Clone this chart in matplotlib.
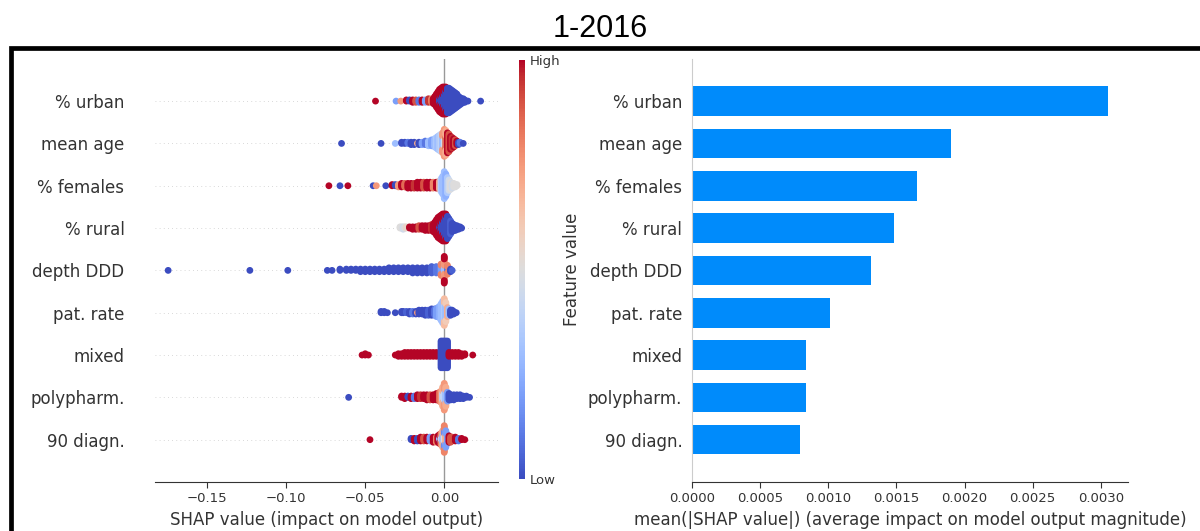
import numpy as np
import matplotlib
matplotlib.use("Agg")
import matplotlib.pyplot as plt
from matplotlib.patches import Rectangle

features = ["90 diagn.", "polypharm.", "mixed", "pat. rate", "depth DDD",
            "% rural", "% females", "mean age", "% urban"]
mean_abs_shap = [0.00079, 0.00084, 0.00084, 0.00101, 0.00131,
                 0.00148, 0.00165, 0.00190, 0.00305]

# (shap value, scaled feature value 0..1, number of samples)
urban = [(-0.0435, 1.0, 1), (-0.0305, 0.2, 1), (-0.0275, 0.75, 1), (-0.024, 1.0, 2),
         (-0.022, 0.0, 2), (-0.020, 1.0, 3), (-0.018, 0.9, 3), (-0.016, 0.1, 3),
         (-0.014, 1.0, 3), (-0.012, 0.2, 3), (-0.010, 0.95, 4), (-0.008, 0.8, 4),
         (-0.007, 1.0, 5), (-0.006, 1.0, 8), (-0.005, 1.0, 12), (-0.004, 1.0, 16),
         (-0.003, 0.0, 6), (-0.003, 1.0, 14), (-0.002, 0.0, 8), (-0.002, 1.0, 14),
         (-0.001, 0.0, 10), (-0.001, 1.0, 14), (0.000, 0.0, 14), (0.000, 1.0, 10),
         (0.001, 0.0, 18), (0.001, 1.0, 6), (0.002, 0.0, 22), (0.003, 0.0, 22),
         (0.004, 0.0, 20), (0.005, 0.0, 18), (0.006, 0.0, 16), (0.007, 0.0, 14),
         (0.008, 0.0, 12), (0.009, 0.0, 9), (0.010, 0.0, 7), (0.011, 0.0, 5),
         (0.012, 0.0, 4), (0.013, 0.0, 3), (0.015, 0.0, 1), (0.023, 0.0, 1)]
mean_age = [(-0.065, 0.0, 1), (-0.040, 0.0, 1), (-0.031, 0.3, 1), (-0.027, 0.0, 2),
            (-0.025, 0.0, 2), (-0.023, 0.1, 2), (-0.021, 0.0, 3), (-0.019, 0.0, 3),
            (-0.017, 0.7, 1), (-0.016, 0.0, 3), (-0.014, 0.2, 3), (-0.012, 0.1, 4),
            (-0.010, 0.3, 5), (-0.008, 0.2, 6), (-0.006, 0.3, 8), (-0.005, 0.35, 10),
            (-0.004, 0.3, 12), (-0.003, 0.35, 14), (-0.002, 0.4, 16), (-0.001, 0.3, 10),
            (-0.001, 0.75, 8), (0.000, 0.45, 10), (0.000, 0.75, 14), (0.001, 0.85, 12),
            (0.001, 0.7, 10), (0.002, 1.0, 18), (0.003, 0.9, 16), (0.004, 1.0, 12),
            (0.005, 0.95, 10), (0.006, 1.0, 8), (0.007, 0.9, 6), (0.008, 1.0, 4),
            (0.009, 0.0, 3), (0.010, 0.1, 2), (0.012, 0.0, 1)]
females = [(-0.073, 1.0, 1), (-0.066, 0.0, 1), (-0.061, 1.0, 1), (-0.045, 0.0, 1),
           (-0.043, 0.75, 1), (-0.037, 0.0, 1), (-0.033, 1.0, 2), (-0.031, 0.0, 2),
           (-0.029, 0.75, 3), (-0.027, 1.0, 4), (-0.025, 0.85, 4), (-0.023, 1.0, 5),
           (-0.021, 1.0, 5), (-0.019, 0.95, 5), (-0.017, 1.0, 6), (-0.015, 1.0, 6),
           (-0.013, 0.9, 6), (-0.011, 1.0, 6), (-0.009, 1.0, 6), (-0.007, 0.8, 6),
           (-0.005, 1.0, 6), (-0.003, 0.7, 8), (-0.002, 0.35, 12), (-0.001, 0.3, 16),
           (0.000, 0.3, 24), (0.001, 0.25, 20), (0.002, 0.35, 14), (0.003, 0.45, 10),
           (0.004, 0.5, 7), (0.005, 0.45, 5), (0.006, 0.5, 4), (0.007, 0.5, 3),
           (0.008, 0.5, 2)]
rural = [(-0.028, 0.5, 2), (-0.027, 0.5, 2), (-0.026, 0.45, 3), (-0.025, 0.5, 2),
         (-0.024, 0.55, 2), (-0.022, 1.0, 2), (-0.020, 1.0, 3), (-0.018, 1.0, 3),
         (-0.016, 0.9, 4), (-0.014, 1.0, 4), (-0.012, 1.0, 5), (-0.010, 1.0, 5),
         (-0.008, 0.95, 6), (-0.007, 1.0, 7), (-0.006, 1.0, 10), (-0.005, 1.0, 14),
         (-0.004, 1.0, 18), (-0.003, 0.0, 4), (-0.003, 1.0, 16), (-0.002, 0.0, 8),
         (-0.002, 1.0, 14), (-0.001, 0.0, 12), (-0.001, 1.0, 12), (0.000, 0.0, 16),
         (0.000, 1.0, 8), (0.001, 0.0, 20), (0.001, 1.0, 4), (0.002, 0.0, 20),
         (0.003, 0.0, 16), (0.004, 0.05, 12), (0.005, 0.0, 8), (0.006, 0.0, 6),
         (0.007, 0.0, 5), (0.008, 0.0, 4), (0.009, 0.0, 3), (0.010, 0.0, 2),
         (0.011, 0.0, 1)]
depth_ddd = [(-0.1747, 0.0, 1), (-0.123, 0.0, 1), (-0.099, 0.0, 1), (-0.074, 0.0, 1),
             (-0.071, 0.0, 1), (-0.066, 0.0, 2), (-0.062, 0.0, 2), (-0.059, 0.0, 2),
             (-0.056, 0.0, 2), (-0.053, 0.0, 3), (-0.050, 0.0, 3), (-0.047, 0.0, 3),
             (-0.044, 0.0, 3), (-0.041, 0.0, 3), (-0.038, 0.0, 3), (-0.035, 0.0, 4),
             (-0.032, 0.0, 4), (-0.029, 0.0, 4), (-0.026, 0.0, 4), (-0.023, 0.0, 4),
             (-0.020, 0.0, 5), (-0.017, 0.0, 5), (-0.014, 0.0, 5), (-0.011, 0.0, 5),
             (-0.008, 0.05, 6), (-0.005, 0.1, 6), (-0.002, 0.2, 6), (-0.002, 0.8, 4),
             (0.000, 0.3, 6), (0.000, 0.75, 10), (0.000, 1.0, 6), (0.002, 0.1, 4),
             (0.002, 0.8, 4), (0.004, 0.0, 3), (0.005, 0.05, 1)]
pat_rate = [(-0.040, 0.0, 2), (-0.038, 0.0, 2), (-0.036, 0.0, 1), (-0.031, 0.0, 1),
            (-0.027, 0.0, 2), (-0.026, 0.0, 2), (-0.024, 0.05, 2), (-0.022, 0.0, 3),
            (-0.020, 0.1, 3), (-0.018, 0.0, 3), (-0.017, 0.75, 1), (-0.016, 0.0, 4),
            (-0.014, 0.0, 4), (-0.012, 0.0, 5), (-0.010, 0.05, 5), (-0.008, 0.0, 6),
            (-0.006, 0.1, 6), (-0.005, 0.2, 7), (-0.004, 0.2, 8), (-0.003, 0.25, 10),
            (-0.002, 0.3, 14), (-0.001, 0.3, 18), (0.000, 0.35, 14), (0.000, 0.65, 8),
            (0.001, 0.3, 12), (0.001, 0.6, 4), (0.002, 0.7, 8), (0.003, 0.3, 6),
            (0.004, 0.0, 5), (0.005, 0.0, 4), (0.006, 0.0, 3), (0.0076, 0.0, 1)]
mixed = [(-0.052, 1.0, 1), (-0.050, 1.0, 2), (-0.048, 1.0, 1), (-0.031, 1.0, 1),
         (-0.029, 1.0, 3), (-0.027, 1.0, 3), (-0.025, 1.0, 4), (-0.023, 1.0, 4),
         (-0.021, 1.0, 4), (-0.019, 1.0, 4), (-0.017, 1.0, 4), (-0.015, 1.0, 4),
         (-0.013, 1.0, 4), (-0.011, 1.0, 4), (-0.009, 1.0, 4), (-0.007, 1.0, 4),
         (-0.005, 1.0, 4), (-0.003, 1.0, 4), (-0.002, 0.0, 22), (-0.001, 0.0, 22),
         (0.000, 0.0, 22), (0.001, 0.0, 22), (0.002, 0.0, 22), (0.003, 1.0, 4),
         (0.005, 1.0, 4), (0.007, 1.0, 4), (0.009, 1.0, 4), (0.011, 1.0, 3),
         (0.013, 1.0, 2), (0.018, 1.0, 1)]
polypharm = [(-0.0605, 0.0, 1), (-0.027, 1.0, 2), (-0.025, 1.0, 3), (-0.023, 0.0, 2),
             (-0.021, 1.0, 3), (-0.019, 0.1, 3), (-0.017, 1.0, 4), (-0.015, 0.95, 4),
             (-0.013, 1.0, 4), (-0.011, 1.0, 5), (-0.009, 0.9, 5), (-0.007, 1.0, 5),
             (-0.005, 1.0, 6), (-0.003, 0.85, 8), (-0.002, 0.75, 10), (-0.001, 0.4, 8),
             (-0.001, 0.7, 8), (0.000, 0.4, 10), (0.000, 0.75, 12), (0.001, 0.3, 10),
             (0.001, 0.7, 6), (0.002, 0.2, 8), (0.003, 0.0, 6), (0.004, 0.0, 5),
             (0.006, 0.0, 5), (0.008, 0.0, 4), (0.010, 0.0, 4), (0.012, 0.0, 3),
             (0.014, 0.0, 2), (0.016, 0.0, 1)]
diagn90 = [(-0.047, 1.0, 1), (-0.021, 0.0, 2), (-0.019, 1.0, 3), (-0.017, 0.0, 3),
           (-0.015, 1.0, 4), (-0.013, 0.9, 4), (-0.011, 1.0, 4), (-0.009, 0.2, 4),
           (-0.007, 1.0, 5), (-0.005, 0.8, 5), (-0.004, 1.0, 6), (-0.003, 0.3, 4),
           (-0.003, 1.0, 4), (-0.002, 0.4, 6), (-0.002, 0.8, 4), (-0.001, 0.3, 8),
           (-0.001, 0.7, 6), (0.000, 0.5, 8), (0.000, 0.15, 8), (0.000, 0.8, 6),
           (0.001, 0.7, 8), (0.001, 0.2, 6), (0.002, 0.2, 8), (0.003, 1.0, 6),
           (0.004, 0.9, 5), (0.005, 0.9, 4), (0.007, 1.0, 4), (0.009, 0.1, 3),
           (0.011, 1.0, 2), (0.013, 1.0, 1)]

rows = [diagn90, polypharm, mixed, pat_rate, depth_ddd, rural, females, mean_age, urban]

axis_color = "#333333"
bar_color = "#008bfb"


def swarm_offsets(shaps, row_height=0.4, nbins=100):
    # stack points that fall into the same x bin, alternating above/below the row
    quant = np.round(nbins * (shaps - shaps.min()) / (shaps.max() - shaps.min() + 1e-8))
    order = np.argsort(quant, kind="stable")
    ys = np.zeros(len(shaps))
    layer, last_bin = 0, -1
    for ind in order:
        if quant[ind] != last_bin:
            layer = 0
        ys[ind] = np.ceil(layer / 2) * ((layer % 2) * 2 - 1)
        layer += 1
        last_bin = quant[ind]
    return ys * 0.9 * (row_height / np.max(ys + 1))


def style_axis(ax, ypad):
    for side in ["top", "right", "left"]:
        ax.spines[side].set_visible(False)
    ax.spines["bottom"].set_color(axis_color)
    ax.tick_params(axis="x", colors=axis_color, labelsize=9.5, length=4)
    ax.tick_params(axis="y", colors=axis_color, labelsize=12, length=0, pad=ypad)


fig = plt.figure(figsize=(12, 5.31), dpi=100)

# beeswarm
ax1 = fig.add_axes([0.1292, 0.0923, 0.2858, 0.797])
ax1.axvline(0, color="#999999", lw=1, zorder=-1)
for pos, row in enumerate(rows):
    ax1.axhline(pos, color="#cccccc", lw=0.6, dashes=(1, 4), zorder=-1)
    shap_vals = np.repeat([r[0] for r in row], [r[2] for r in row])
    feat_vals = np.repeat([r[1] for r in row], [r[2] for r in row])
    ys = swarm_offsets(shap_vals)
    sc = ax1.scatter(shap_vals, pos + ys, c=feat_vals, cmap="coolwarm", vmin=0, vmax=1,
                     s=24, linewidth=0, zorder=3, rasterized=True)
ax1.set_xlim(-0.183, 0.034)
ax1.set_ylim(-1, len(features))
ax1.set_yticks(range(len(features)))
ax1.set_yticklabels(features)
ax1.set_xticks([-0.15, -0.10, -0.05, 0.00])
ax1.set_xlabel("SHAP value (impact on model output)", fontsize=12, color=axis_color)
style_axis(ax1, 22)

# colour bar
cax = fig.add_axes([0.4325, 0.0979, 0.005, 0.789])
cb = fig.colorbar(sc, cax=cax, ticks=[0, 1])
cb.set_ticklabels(["Low", "High"])
cb.set_label("Feature value", size=12, labelpad=2, color=axis_color)
cb.ax.tick_params(labelsize=9.5, length=0, colors=axis_color)
cb.outline.set_visible(False)

# mean |SHAP| bars
ax2 = fig.add_axes([0.5767, 0.0923, 0.3633, 0.797])
ax2.barh(range(len(features)), mean_abs_shap, height=0.7, color=bar_color)
ax2.set_xlim(0, 0.0032)
ax2.set_ylim(-1, len(features))
ax2.set_yticks(range(len(features)))
ax2.set_yticklabels(features)
ax2.set_xticks([0, 0.0005, 0.0010, 0.0015, 0.0020, 0.0025, 0.0030])
ax2.set_xticklabels(["0.0000", "0.0005", "0.0010", "0.0015", "0.0020", "0.0025", "0.0030"])
ax2.set_xlabel("mean(|SHAP value|) (average impact on model output magnitude)",
               fontsize=12, color=axis_color)
style_axis(ax2, 7)
ax2.spines["left"].set_visible(True)
ax2.spines["left"].set_color("#cccccc")

# frame and title
fig.patches.append(Rectangle((11 / 1200, -0.2), 1.5, 0.9105 + 0.2, transform=fig.transFigure,
                             fill=False, edgecolor="black", lw=3.4, clip_on=False))
fig.text(0.5, 1 - 37 / 531, "1-2016", ha="center", va="baseline",
         fontsize=22, family=["Liberation Sans", "DejaVu Sans"])

fig.savefig("out.png", dpi=100)
